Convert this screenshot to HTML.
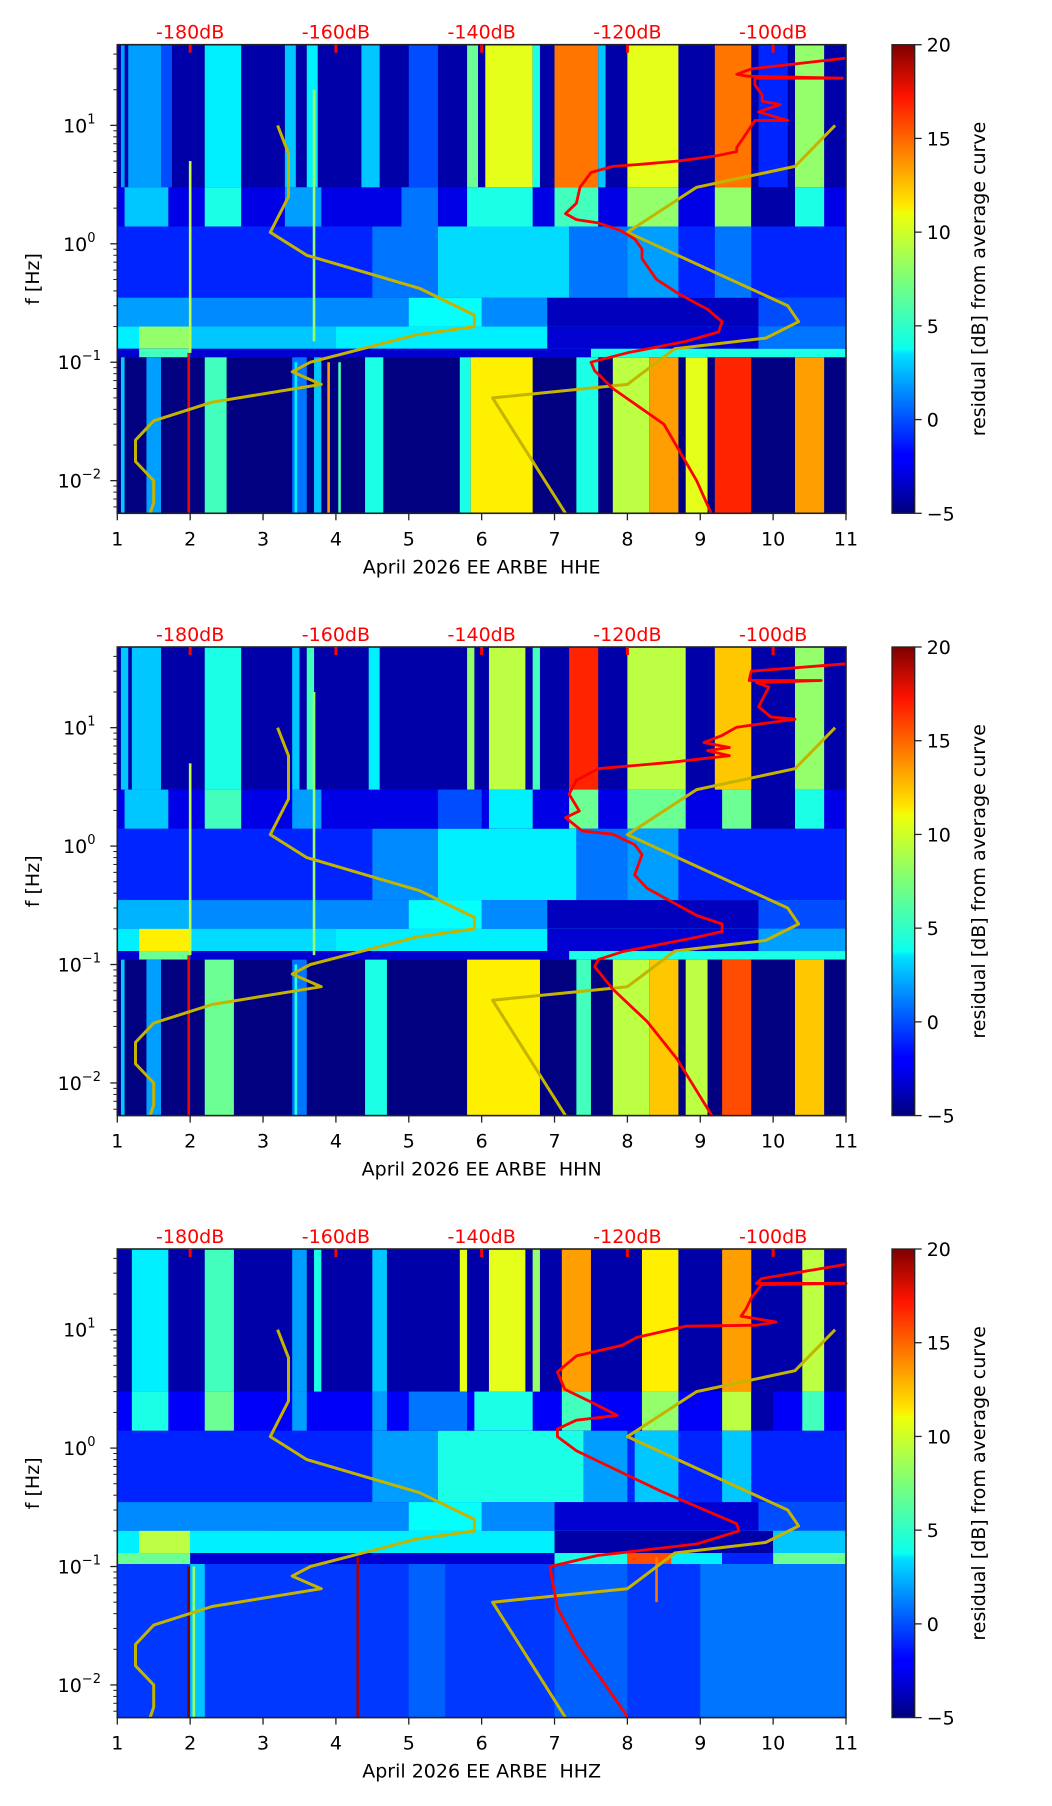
<!DOCTYPE html>
<html><head><meta charset="utf-8">
<style>
html,body{margin:0;padding:0;background:#fff;}
svg{display:block;font-family:"DejaVu Sans","Liberation Sans",sans-serif;}
</style></head>
<body>
<svg id="fig" width="1052" height="1806" viewBox="0 0 1052 1806" xmlns="http://www.w3.org/2000/svg">
<defs>
<linearGradient id="jet" x1="0" y1="1" x2="0" y2="0">
<stop offset="0" stop-color="#00007f"/><stop offset="0.11" stop-color="#0000ff"/>
<stop offset="0.125" stop-color="#0000ff"/><stop offset="0.34" stop-color="#00e0ff"/>
<stop offset="0.35" stop-color="#08ffef"/><stop offset="0.5" stop-color="#7cff79"/>
<stop offset="0.64" stop-color="#efff08"/><stop offset="0.66" stop-color="#ffe600"/>
<stop offset="0.89" stop-color="#ff1300"/><stop offset="1" stop-color="#7f0000"/>
</linearGradient>
</defs>
</svg>
<script>
// ---------------- data ----------------
const xTicks = [1,2,3,4,5,6,7,8,9,10,11];
const dbTicks = [-180,-160,-140,-120,-100];
const yTickExp = [1,0,-1,-2];
const cbTicks = [20,15,10,5,0,-5];
const panelTitles = ["April 2026 EE ARBE\u00a0 HHE","April 2026 EE ARBE\u00a0 HHN","April 2026 EE ARBE\u00a0 HHZ"];

// low-noise model curve (dB, Hz)
const nlnmDb = [-168,-166.5,-166.5,-169,-164,-148.5,-141,-141,-149,-163.5,-166,-162,-177,-185,-187.5,-187.5,-185,-185,-185.5];
const nlnmF  = [10,5.8,2.5,1.25,0.8,0.42,0.25,0.2,0.17,0.1,0.083,0.065,0.046,0.032,0.022,0.0145,0.01,0.0065,0.0053];
// high-noise model curve
const nhnmDb = [-91.5,-97,-110.5,-120,-98,-96.5,-101,-113.5,-120,-138.5,-128.5];
const nhnmF  = [10,4.5,3,1.25,0.3,0.22,0.16,0.13,0.065,0.05,0.0053];

// station average curves
const avg1F  = [37,30,27,26,25,25,22,18,16,15,13,11,11,8,6.5,6,5.5,5,4.7,4.5,4,3,2.2,1.8,1.6,1.5,1.3,1.1,0.9,0.75,0.5,0.38,0.28,0.22,0.18,0.15,0.12,0.1,0.085,0.06,0.03,0.01,0.0053];
const avg1Db = [-90,-103,-105,-103.5,-90.5,-102.5,-102.5,-101.5,-101.5,-99,-102,-98,-102.5,-104,-105,-105,-108,-113,-118,-122,-125,-126.5,-127,-128.5,-127,-124,-121,-119,-118,-118,-116,-113,-109,-107,-107.5,-112,-120,-125,-124.5,-122,-115,-110.5,-108.5];
const avg2F  = [34.6,30,25,25,24,22,15,12.3,11.8,10.1,8.6,7.5,6.8,6.4,5.8,5.1,4.5,3.6,2.75,1.98,1.74,1.34,1.26,1.03,0.85,0.57,0.44,0.26,0.22,0.19,0.17,0.128,0.11,0.096,0.062,0.033,0.016,0.0053];
const avg2Db = [-90,-103,-103.3,-93.4,-102.3,-100.6,-102,-100.3,-97,-105,-107,-109.5,-106,-109,-106,-114,-124,-127,-128,-126.6,-128.5,-126.2,-122,-119,-118,-119,-117.3,-110.5,-107,-107,-110.5,-120.7,-124,-124.5,-122,-117.3,-113.2,-108.4];
const avg3F  = [35.6,27,24.6,24.6,24,18.5,15,13,11.6,10.9,10.7,8.6,7.4,6,4.4,3.14,2.45,1.89,1.72,1.45,1.25,0.95,0.62,0.43,0.23,0.2,0.155,0.124,0.1,0.076,0.045,0.022,0.0054];
const avg3Db = [-90,-101.6,-102.3,-90,-101.6,-103,-103.7,-104.4,-99.6,-102.3,-112,-118.7,-120.7,-127,-129.6,-128.6,-125,-121.4,-127,-129.6,-129.6,-127,-120.7,-115.3,-105,-104.7,-110.5,-124.1,-130.6,-130.3,-129.6,-126.9,-120];

// heatmap bands: [fmin, fmax, default residual dB]
const bands1 = [[0.0053,48,-1],[1.5,48,-4],[1.4,3,-2.5],[0.35,1.4,-1],[0.2,0.35,1.5],[0.13,0.2,4],[0.11,0.13,-3],[0.0053,0.11,-5]];
const segs1 = [
 [],
 [[1.05,1.1,2],[1.15,1.6,2],[1.6,1.75,0],[2.2,2.7,4],[3.3,3.45,3],[3.6,3.75,4],[4.35,4.6,3],[5.0,5.4,0],[5.8,5.95,7],[6.05,6.7,10],[6.7,6.8,5],[7.0,7.6,14],[7.6,7.7,3],[8.0,8.7,10],[9.2,9.7,14],[9.8,10.2,-1],[10.3,10.7,8]],
 [[1.1,1.7,3],[2.2,2.7,5],[3.3,3.8,2],[4.9,5.4,1],[5.8,6.7,5],[7.0,7.6,6],[8.0,8.7,8],[9.2,9.7,8],[9.7,10.3,-4],[10.3,10.7,5]],
 [[4.5,5.4,1],[5.4,7.2,3.5],[7.2,8.0,1],[8.0,8.7,2],[9.2,9.7,1]],
 [[1,2,2],[5,6,4.5],[6.9,9.8,-3.5],[9.8,11,0]],
 [[1.3,2.0,8],[2,4,3],[6.9,9.8,-3],[9.8,11,1]],
 [[1.3,2,6],[7.5,11,5]],
 [[1.05,1.1,3],[1.4,1.6,2],[2.2,2.5,6],[3.4,3.6,1],[3.7,3.8,3],[4.4,4.65,5],[5.7,5.85,5],[5.85,6.7,11],[7.3,7.6,5],[7.8,8.3,9],[8.3,8.7,13],[8.8,9.1,10],[9.2,9.7,16],[10.3,10.7,13]]
];
const lines1 = [[1.98,0.0053,0.12,17],[2.0,0.12,5,9],[3.7,0.15,20,8],[3.9,0.0053,0.1,13],[4.05,0.0053,0.1,6],[3.45,0.0053,0.1,4]];

const bands2 = [[0.0053,48,-1],[1.5,48,-4],[1.4,3,-2.5],[0.35,1.4,-1],[0.2,0.35,1.5],[0.13,0.2,4],[0.11,0.13,-3],[0.0053,0.11,-5]];
const segs2 = [
 [],
 [[1.05,1.15,3],[1.2,1.6,3],[2.2,2.7,5],[3.4,3.5,3],[3.6,3.7,6],[4.45,4.6,4],[5.8,5.9,8],[6.1,6.6,9],[6.7,6.8,6],[7.2,7.6,16],[8.0,8.8,9],[9.2,9.7,12],[10.3,10.7,8]],
 [[1.1,1.7,3],[2.2,2.7,6],[3.4,3.8,2],[5.4,6,0],[6.1,6.7,4],[7.2,7.6,7],[8.0,8.8,7],[9.3,9.7,7],[9.7,10.3,-4],[10.3,10.7,5]],
 [[4.5,5.4,1.5],[5.4,7.3,4],[7.3,8.0,1],[8.0,8.7,2]],
 [[1,2,2.5],[5,6,4.5],[6.9,9.8,-3.5],[9.8,11,0]],
 [[1.3,2.0,11],[2,4,3.5],[6.9,9.8,-3],[9.8,11,2]],
 [[1.3,2,7],[7.2,11,5]],
 [[1.05,1.1,3],[1.4,1.6,2],[2.2,2.6,7],[3.4,3.6,1],[4.4,4.7,5],[5.8,6.8,11],[7.3,7.5,6],[7.8,8.3,9],[8.3,8.7,12],[8.8,9.1,9],[9.3,9.7,15],[10.3,10.7,12]]
];
const lines2 = [[1.98,0.0053,0.12,17],[2.0,0.12,5,9],[3.7,0.12,20,8],[3.45,0.0053,0.1,5]];

const bands3 = [[0.0053,48,-1],[1.5,48,-4],[1.4,3,-2],[0.35,1.4,-1],[0.2,0.35,1.5],[0.13,0.2,4],[0.105,0.13,-3],[0.0053,0.105,-0.5]];
const segs3 = [
 [],
 [[1.2,1.7,4],[2.2,2.6,6],[3.4,3.6,2],[3.7,3.8,5],[4.5,4.7,3],[5.7,5.8,10],[6.1,6.6,10],[6.7,6.8,8],[7.1,7.5,13],[8.2,8.7,11],[9.3,9.7,13],[10.4,10.7,9]],
 [[1.2,1.7,5],[2.2,2.6,7],[3.4,3.6,2],[4.5,4.7,2],[5.0,5.8,1],[5.9,6.7,5],[7.1,7.5,6],[8.2,8.7,8],[9.3,9.7,9],[9.7,10.0,-4],[10.4,10.7,6]],
 [[4.5,5.4,2],[5.4,7.4,5],[7.4,8.0,2],[8.1,8.7,3],[9.3,9.7,3]],
 [[5,6,4.5],[7,9.8,-3],[9.8,11,0]],
 [[1.3,2,9],[2,3,4],[7,10,-4],[10,11,3]],
 [[1,2,7],[7,8,5],[8,8.6,15],[8.6,9.3,4],[9.3,10,-1],[10,11,7]],
 [[2.0,2.2,3],[5,5.5,0.5],[7,8,0.5],[9,11,1]]
];
const lines3 = [[1.98,0.0053,0.1,20],[4.3,0.0053,0.12,19],[2.05,0.0053,0.1,8],[8.4,0.05,0.12,14]];

// ---------------- layout ----------------
const SVGNS = "http://www.w3.org/2000/svg";
const svg = document.getElementById('fig');
const PX0 = 117.3, PX1 = 846, PH = 468.6;
const TOPS = [44.7, 647, 1249];
const FMIN = 0.0053, FMAX = 48;
const CBX0 = 892, CBX1 = 914.7;

function mk(tag, attrs, parent){const e=document.createElementNS(SVGNS,tag);for(const k in attrs)e.setAttribute(k,attrs[k]);(parent||svg).appendChild(e);return e;}
function jet(v){
  let t=(v+5)/25; t=Math.max(0,Math.min(1,t));
  const r=Math.max(0,Math.min(1,Math.min(4*t-1.5,-4*t+4.5)));
  const g=Math.max(0,Math.min(1,Math.min(4*t-0.5,-4*t+3.5)));
  const b=Math.max(0,Math.min(1,Math.min(4*t+0.5,-4*t+2.5)));
  return `rgb(${Math.round(r*255)},${Math.round(g*255)},${Math.round(b*255)})`;
}

function drawPanel(i, bands, segs, lines, aF, aDb){
  const top=TOPS[i], bot=top+PH;
  const X=d=>PX0+(d-1)*(PX1-PX0)/10;
  const XDb=db=>X(2+(db+180)/10);
  const Y=f=>top+(Math.log10(FMAX)-Math.log10(f))/(Math.log10(FMAX)-Math.log10(FMIN))*PH;
  const g=mk('g',{});  
  const hm=mk('g',{},g);
  
  
  bands.forEach((b,bi)=>{
    const y0=Y(b[1]), y1=Y(b[0]);
    const r=mk('rect',{x:X(1),y:y0,width:X(11)-X(1),height:y1-y0,fill:jet(b[2])},hm);
    
    
    segs[bi].forEach(s=>{
      const c=mk('rect',{x:X(s[0]),y:y0,width:X(s[1])-X(s[0]),height:y1-y0,fill:jet(s[2])},hm);
      
      
    });
  });
  lines.forEach(l=>{
    const c=mk('rect',{x:X(l[0])-1.3,y:Y(l[2]),width:2.6,height:Y(l[1])-Y(l[2]),fill:jet(l[3])},hm);
    
    
  });
  const poly=(F,D,col,w,name)=>{
    const p=mk('polyline',{points:F.map((f,k)=>XDb(D[k]).toFixed(1)+','+Y(f).toFixed(1)).join(' '),fill:'none',stroke:col,'stroke-width':w,'stroke-linejoin':'round'},g);
    
    
  };
  poly(nlnmF,nlnmDb,'#c4b400',3,'low-noise-model-curve');
  poly(nhnmF,nhnmDb,'#c4b400',3,'high-noise-model-curve');
  poly(aF,aDb,'#ff0000',2.8,'average-curve');
  const fr=mk('rect',{x:PX0,y:top,width:PX1-PX0,height:PH,fill:'none',stroke:'#222','stroke-width':1.6},g);
  
  
  xTicks.forEach(d=>{
    mk('line',{x1:X(d),y1:bot,x2:X(d),y2:bot+7,stroke:'#222','stroke-width':1.3},g);
    const t=mk('text',{x:X(d),y:bot+32,'font-size':19,'text-anchor':'middle',fill:'#000'},g);
    t.textContent=d;
    
    
  });
  const xl=mk('text',{x:(PX0+PX1)/2,y:bot+60,'font-size':19,'text-anchor':'middle',fill:'#000'},g);
  xl.textContent=panelTitles[i];
  
  
  dbTicks.forEach(db=>{
    mk('line',{x1:XDb(db),y1:top,x2:XDb(db),y2:top+8,stroke:'#ff0000','stroke-width':3},g);
    const t=mk('text',{x:XDb(db),y:top-6,'font-size':19,'text-anchor':'middle',fill:'#ff0000'},g);
    t.textContent=db+'dB';
    
    
  });
  for(let e=-3;e<=1;e++){
    for(let m=1;m<10;m++){
      const f=m*Math.pow(10,e); if(f<FMIN||f>FMAX) continue;
      mk('line',{x1:PX0,y1:Y(f),x2:PX0-(m===1?7:4),y2:Y(f),stroke:'#222','stroke-width':m===1?1.3:1},g);
    }
  }
  yTickExp.forEach(e=>{
    const t=mk('text',{x:PX0-38,y:Y(Math.pow(10,e))+7,'font-size':19,'text-anchor':'middle',fill:'#000'},g);
    
    
    t.appendChild(document.createTextNode('10'));
    const s=mk('tspan',{'font-size':13,dy:-9},t); s.textContent=(e<0?'\u2212'+(-e):e);
  });
  const yl=mk('text',{x:0,y:0,'font-size':19,'text-anchor':'middle',fill:'#000',transform:`translate(39,${top+PH/2}) rotate(-90)`},g);
  yl.textContent='f [Hz]';
  
  
  const cb=mk('rect',{x:CBX0,y:top,width:CBX1-CBX0,height:PH,fill:'url(#jet)',stroke:'#222','stroke-width':1.3},g);
  
  
  cbTicks.forEach(v=>{
    const y=top+(20-v)/25*PH;
    mk('line',{x1:CBX1,y1:y,x2:CBX1+7,y2:y,stroke:'#222','stroke-width':1.3},g);
    const t=mk('text',{x:CBX1+12,y:y+7,'font-size':19,fill:'#000'},g);
    t.textContent=(v<0?'\u2212'+(-v):v);
    
    
  });
  const cl=mk('text',{x:0,y:0,'font-size':19,'text-anchor':'middle',fill:'#000',transform:`translate(985,${top+PH/2}) rotate(-90)`},g);
  cl.textContent='residual [dB] from average curve';
  
  
}
drawPanel(0,bands1,segs1,lines1,avg1F,avg1Db);
drawPanel(1,bands2,segs2,lines2,avg2F,avg2Db);
drawPanel(2,bands3,segs3,lines3,avg3F,avg3Db);
</script>
</body></html>
